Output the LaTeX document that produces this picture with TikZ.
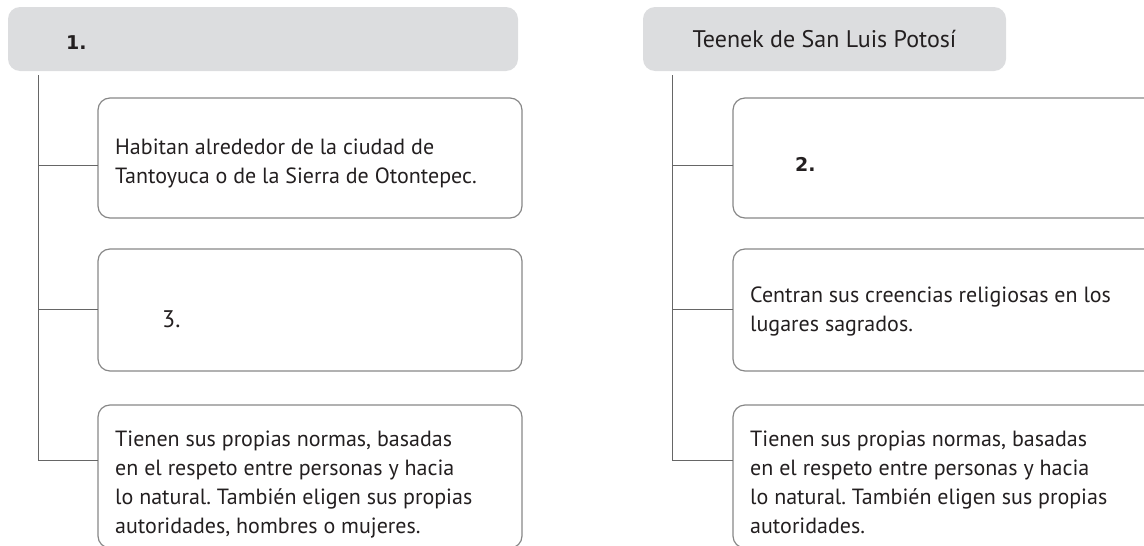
\documentclass[tikz,border=0pt]{standalone}
\usepackage{fontspec}
\setmainfont{PT Sans}
\newfontfamily\numfont{DejaVu Sans}
\definecolor{hdr}{HTML}{DCDDDF}
\definecolor{txt}{HTML}{231F20}
\definecolor{edge}{HTML}{878787}
\definecolor{conn}{HTML}{666666}
\frenchspacing
\newcommand{\textlines}[1]{\begin{tabular}[t]{@{}l@{}}#1\end{tabular}}
\begin{document}
\begin{tikzpicture}[x=1pt,y=-1pt,
  header/.style={fill=hdr, rounded corners=12pt, anchor=north west, outer sep=0pt, minimum height=64pt, text=txt},
  card/.style={draw=edge, line width=1.2pt, rounded corners=12pt, anchor=north west, outer sep=0pt, minimum width=424pt},
  body/.style={anchor=base west, inner sep=0pt, text=txt, font=\fontsize{22}{29}\selectfont},
  num/.style={anchor=west, inner sep=0pt, text=txt, font=\numfont\bfseries\fontsize{19}{21}\selectfont},
  link/.style={draw=conn, line width=1pt},
]
\useasboundingbox (0,0) rectangle (1144,546);
\clip (0,0) rectangle (1144,546);
% headers
\node[header, minimum width=510pt] (h1) at (8,7) {};
\node[num] (n1) at (66,43) {1.};
\node[header, minimum width=363pt, font=\fontsize{24}{28}\selectfont] (h2) at (643,7) {Teenek de San Luis Potosí};
% left cards
\node[card, minimum height=120pt] (lb1) at (98,98) {};
\node[body] (t1) at (115,154) {\textlines{Habitan alrededor de la ciudad de\\Tantoyuca o de la Sierra de Otontepec.}};
\node[card, minimum height=122pt] (lb2) at (98,249) {};
\node[anchor=west, inner sep=0pt, text=txt, font=\fontsize{24}{28}\selectfont] (n3) at (162,319) {3.};
\node[card, minimum height=143pt] (lb3) at (98,405) {};
\node[body] (t3) at (115,446) {\textlines{Tienen sus propias normas, basadas\\en el respeto entre personas y hacia\\lo natural. También eligen sus propias\\autoridades, hombres o mujeres.}};
% right cards
\node[card, minimum height=120pt] (rb1) at (733,98) {};
\node[num] (n2) at (795,164) {2.};
\node[card, minimum height=122pt] (rb2) at (733,249) {};
\node[body] (t5) at (750,302) {\textlines{Centran sus creencias religiosas en los\\lugares sagrados.}};
\node[card, minimum height=143pt] (rb3) at (733,405) {};
\node[body] (t6) at (750,446) {\textlines{Tienen sus propias normas, basadas\\en el respeto entre personas y hacia\\lo natural. También eligen sus propias\\autoridades.}};
% connectors left
\coordinate (L0) at (38,75);
\coordinate (La) at (38,165);
\coordinate (Lb) at (38,309);
\coordinate (Lc) at (38,460);
\draw[link] (L0) -- (Lc) -- (Lc -| lb3.west);
\draw[link] (La) -- (La -| lb1.west);
\draw[link] (Lb) -- (Lb -| lb2.west);
% connectors right
\coordinate (R0) at (672,75);
\coordinate (Ra) at (672,165);
\coordinate (Rb) at (672,309);
\coordinate (Rc) at (672,460);
\draw[link] (R0) -- (Rc) -- (Rc -| rb3.west);
\draw[link] (Ra) -- (Ra -| rb1.west);
\draw[link] (Rb) -- (Rb -| rb2.west);
\end{tikzpicture}
\end{document}
